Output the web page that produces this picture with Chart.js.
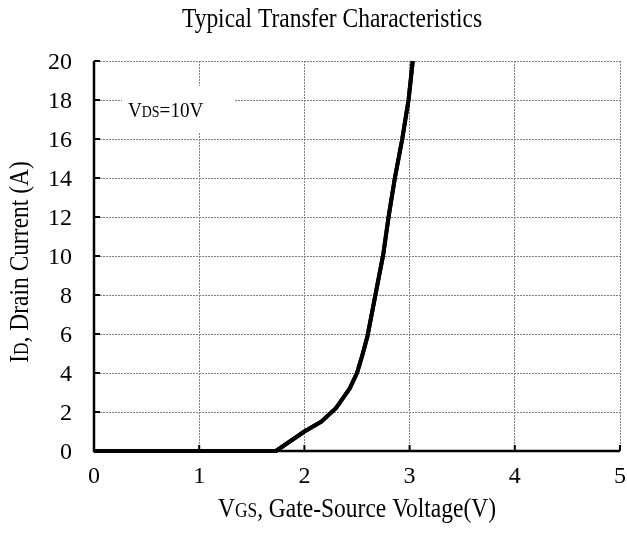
<!DOCTYPE html>
<html>
<head>
<meta charset="utf-8">
<script src="https://cdn.jsdelivr.net/npm/chart.js@4.4.0/dist/chart.umd.min.js"></script>
<style>
  html, body { margin: 0; padding: 0; background: #fff; }
  #wrap { width: 627px; height: 534px; }
</style>
</head>
<body>
<div id="wrap"><canvas id="chart"></canvas></div>
<script>
// Transfer curve
const VGS = [0, 1.73, 2.0, 2.16, 2.3, 2.43, 2.5, 2.55, 2.6, 2.65, 2.7, 2.75, 2.8, 2.86, 2.93, 2.99, 3.03];
const ID  = [0, 0, 1.0, 1.5, 2.2, 3.2, 4.0, 4.9, 5.9, 7.3, 8.7, 10.1, 12, 14, 16, 18, 20];

const X_TICKS = [0, 1, 2, 3, 4, 5];
const Y_TICKS = [0, 2, 4, 6, 8, 10, 12, 14, 16, 18, 20];

const TITLE    = 'Typical Transfer Characteristics';
const X_TITLE  = ['V', 'GS', ', Gate-Source Voltage(V)'];
const Y_TITLE  = ['I', 'D', ', Drain Current (A)'];
const NOTE     = ['V', 'DS', '=10V'];

const FONT = "'Liberation Serif', 'Times New Roman', serif";
const SQUEEZE = 0.87;   // reference type is a narrow serif

// [big, small, big] pieces, left edge at x, baseline y (unsqueezed units)
function drawSubText(ctx, parts, x, y, big, small) {
  const sizes = [big, small, big];
  parts.forEach((p, i) => {
    ctx.font = sizes[i] + 'px ' + FONT;
    ctx.fillText(p, x, y);
    x += ctx.measureText(p).width;
  });
}
function subTextWidth(ctx, parts, big, small) {
  const sizes = [big, small, big];
  let w = 0;
  parts.forEach((p, i) => { ctx.font = sizes[i] + 'px ' + FONT; w += ctx.measureText(p).width; });
  return w;
}
// squeezed text drawn with its centre at cx
function squeezed(ctx, cx, cy, fn) {
  ctx.save();
  ctx.translate(cx, cy);
  ctx.scale(SQUEEZE, 1);
  fn();
  ctx.restore();
}

const decor = {
  id: 'decor',
  afterDraw(chart) {
    const { ctx, chartArea: a, scales } = chart;
    ctx.save();
    ctx.fillStyle = '#000';
    ctx.textBaseline = 'alphabetic';

    // title
    squeezed(ctx, 332, 27, () => {
      ctx.font = '27px ' + FONT;
      ctx.textAlign = 'center';
      ctx.fillText(TITLE, 0, 0);
    });
    ctx.textAlign = 'left';

    // x title
    squeezed(ctx, (a.left + a.right) / 2, 517, () => {
      const w = subTextWidth(ctx, X_TITLE, 27, 20);
      drawSubText(ctx, X_TITLE, -w / 2, 0, 27, 20);
    });

    // y title (rotated)
    ctx.save();
    ctx.translate(28, 262);
    ctx.rotate(-Math.PI / 2);
    ctx.scale(SQUEEZE, 1);
    const wy = subTextWidth(ctx, Y_TITLE, 27, 20);
    drawSubText(ctx, Y_TITLE, -wy / 2, 0, 27, 20);
    ctx.restore();

    // tick labels
    ctx.font = '24px ' + FONT;
    ctx.textAlign = 'right';
    Y_TICKS.forEach(v => ctx.fillText(String(v), a.left - 22, scales.y.getPixelForValue(v) + 8));
    ctx.textAlign = 'center';
    X_TICKS.forEach(v => ctx.fillText(String(v), scales.x.getPixelForValue(v), a.bottom + 32));
    ctx.textAlign = 'left';

    // note box
    ctx.fillStyle = '#fff';
    ctx.fillRect(a.left + 28, a.top + 25, 112, 46);
    ctx.fillStyle = '#000';
    ctx.save();
    ctx.translate(a.left + 34, a.top + 56);
    ctx.scale(SQUEEZE, 1);
    drawSubText(ctx, NOTE, 0, 0, 22, 16);
    ctx.restore();

    // axis lines
    ctx.strokeStyle = '#000';
    ctx.lineWidth = 2.5;
    ctx.beginPath();
    ctx.moveTo(a.left, a.top);
    ctx.lineTo(a.left, a.bottom);
    ctx.lineTo(a.right, a.bottom);
    ctx.stroke();

    // inward ticks
    ctx.lineWidth = 2;
    ctx.beginPath();
    Y_TICKS.forEach(v => {
      const y = scales.y.getPixelForValue(v);
      ctx.moveTo(a.left, y); ctx.lineTo(a.left + 6, y);
    });
    X_TICKS.forEach(v => {
      const x = scales.x.getPixelForValue(v);
      ctx.moveTo(x, a.bottom); ctx.lineTo(x, a.bottom - 6);
    });
    ctx.stroke();

    // curve again, on top of the box and axes
    const meta = chart.getDatasetMeta(0);
    ctx.beginPath();
    ctx.rect(a.left, a.top - 2, a.right - a.left, a.bottom - a.top + 4);
    ctx.clip();
    ctx.lineWidth = 4;
    ctx.lineJoin = 'round';
    ctx.beginPath();
    meta.data.forEach((pt, i) => {
      if (i === 0) ctx.moveTo(pt.x, pt.y); else ctx.lineTo(pt.x, pt.y);
    });
    ctx.stroke();
    ctx.restore();
  },
};

new Chart(document.getElementById('chart'), {
  type: 'scatter',
  data: {
    datasets: [{
      data: VGS.map((v, i) => ({ x: v, y: ID[i] })),
      showLine: true,
      borderColor: '#000',
      borderWidth: 4,
      pointRadius: 0,
      tension: 0,
    }],
  },
  options: {
    responsive: true,
    maintainAspectRatio: false,
    animation: false,
    devicePixelRatio: 1,
    layout: { padding: { top: 61, right: 7, left: 0, bottom: 0 } },
    plugins: { legend: { display: false }, tooltip: { enabled: false } },
    scales: {
      x: {
        type: 'linear',
        min: 0, max: 5,
        afterFit: s => { s.height = 83; s.paddingLeft = 0; s.paddingRight = 0; },
        afterBuildTicks: s => { s.ticks = X_TICKS.map(v => ({ value: v })); },
        border: { display: false, dash: [2, 1] },
        grid: { color: '#808080', lineWidth: 1, drawTicks: false },
        ticks: { display: false },
      },
      y: {
        type: 'linear',
        min: 0, max: 20,
        afterFit: s => { s.width = 94; s.paddingTop = 0; s.paddingBottom = 0; },
        afterBuildTicks: s => { s.ticks = Y_TICKS.map(v => ({ value: v })); },
        border: { display: false, dash: [2, 1] },
        grid: { color: '#808080', lineWidth: 1, drawTicks: false },
        ticks: { display: false },
      },
    },
  },
  plugins: [decor],
});
</script>
</body>
</html>
